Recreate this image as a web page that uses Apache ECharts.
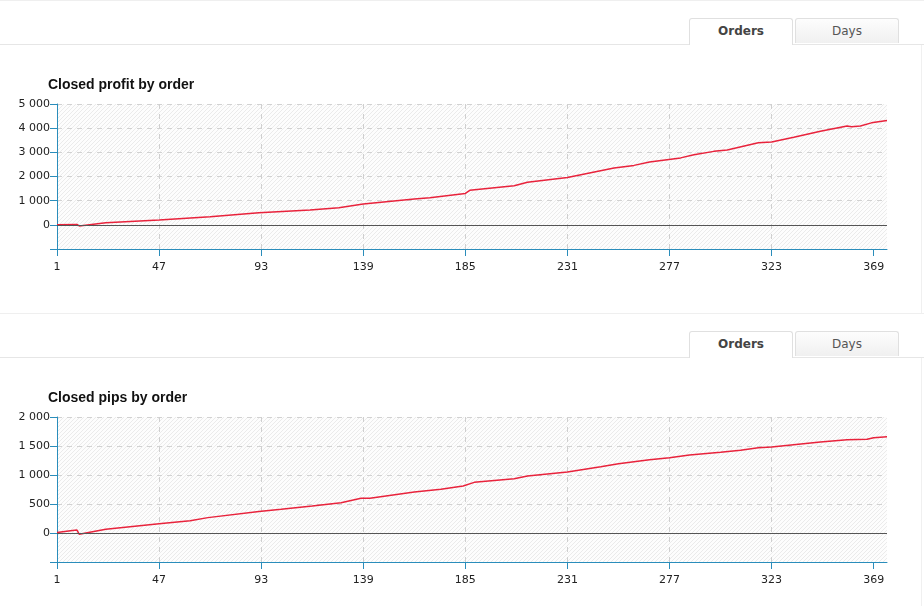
<!DOCTYPE html>
<html>
<head>
<meta charset="utf-8">
<script src="https://cdn.jsdelivr.net/npm/echarts@6/dist/echarts.min.js"></script>
<style>
  body { margin: 0; background: #fff; font-family: "DejaVu Sans", Verdana, sans-serif; }
  .panel { position: absolute; left: 0; width: 924px; height: 313px; border-top: 1px solid #efefef; box-sizing: border-box; }
  .bar { position: absolute; top: 0; left: 0; width: 924px; height: 43px; border-bottom: 1px solid #e6e6e6; }
  .tab { position: absolute; top: 17px; width: 102px; height: 24px; line-height: 24px; text-align: center; font-size: 12px;
         border: 1px solid #e0e0e0; border-bottom: none; border-radius: 3px 3px 0 0; color: #555;
         background: linear-gradient(#fdfdfd, #f0f0f0); }
  .tab.on { height: 26px; background: #fff; font-weight: bold; color: #444; }
  .side { position: absolute; top: 44px; left: 921px; width: 1px; height: 269px; background: #f0f0f0; }
  .chart { position: absolute; top: 43px; left: 0; width: 924px; height: 269px; }
</style>
</head>
<body>
<div class="panel" style="top:0">
  <div class="bar"><div class="tab on" style="left:689px">Orders</div><div class="tab" style="left:795px">Days</div></div>
  <div class="side"></div>
  <div id="profit" class="chart"></div>
</div>
<div class="panel" style="top:313px">
  <div class="bar"><div class="tab on" style="left:689px">Orders</div><div class="tab" style="left:795px">Days</div></div>
  <div class="side"></div>
  <div id="pips" class="chart"></div>
</div>
<script>
// order number -> closed profit
const profitOrders = [1, 10, 11, 23, 47, 70, 92, 115, 128, 139, 162, 169, 185, 187, 207, 213, 231, 252, 261, 268,
  282, 288, 297, 303, 317, 323, 333, 345, 357, 359, 363, 368, 375];
const profitValues = [0, 15, -45, 90, 200, 330, 500, 610, 710, 860, 1070, 1120, 1300, 1430, 1620, 1760, 1960, 2350, 2460, 2600,
  2770, 2900, 3040, 3100, 3400, 3430, 3620, 3870, 4090, 4060, 4090, 4220, 4320];

// order number -> closed pips
const pipsOrders = [1, 8, 10, 11, 23, 47, 61, 69, 92, 102, 116, 129, 138, 142, 162, 174, 184, 189, 207, 213,
  231, 246, 254, 268, 277, 286, 300, 309, 317, 323, 345, 357, 366, 369, 375];
const pipsValues = [10, 45, 50, -20, 65, 160, 210, 265, 370, 408, 465, 523, 598, 600, 707, 753, 810, 873, 937, 983,
  1052, 1143, 1195, 1264, 1298, 1345, 1391, 1425, 1471, 1483, 1569, 1609, 1615, 1643, 1660];

const xLabelOrders = [1, 47, 93, 139, 185, 231, 277, 323, 369];
const ORDER_COUNT = 375;

const FONT = '"DejaVu Sans", Verdana, sans-serif';
const BLUE = '#2a8dbb';

function hatch() {
  const c = document.createElement('canvas');
  c.width = 4; c.height = 4;
  const g = c.getContext('2d');
  g.fillStyle = '#fdfdfd';
  g.fillRect(0, 0, 4, 4);
  g.strokeStyle = '#ebebeb';
  g.lineWidth = 1;
  g.beginPath();
  g.moveTo(0, 4); g.lineTo(4, 0);
  g.moveTo(-1, 1); g.lineTo(1, -1);
  g.moveTo(3, 5); g.lineTo(5, 3);
  g.stroke();
  return c;
}

const spaced = v => v < 0 ? '' : String(v).replace(/\B(?=(\d{3})+(?!\d))/g, ' ');

function draw(el, { title, orders, values, min, max, step }) {
  const c = echarts.init(el, null, { renderer: 'canvas' });
  const ticks = xLabelOrders.map(o => o - 1);
  c.setOption({
    animation: false,
    textStyle: { fontFamily: FONT },
    title: {
      text: title, left: 48, top: 34, padding: 0,
      textStyle: { fontSize: 14, fontWeight: 'bold', color: '#111', fontFamily: '"Liberation Sans", Arial, sans-serif' },
    },
    grid: {
      left: 57, right: 37, top: 60, height: 145,
      show: true, borderWidth: 0,
      backgroundColor: { image: hatch(), repeat: 'repeat' },
    },
    xAxis: {
      type: 'value', min: 0, max: ORDER_COUNT - 1, interval: 23,
      axisLine: { onZero: false, lineStyle: { color: BLUE, width: 1 } },
      axisTick: { customValues: ticks, length: 7, lineStyle: { color: BLUE } },
      axisLabel: { customValues: ticks, formatter: v => v + 1, color: '#222', fontSize: 11, margin: 13 },
      splitLine: { show: true, showMaxLine: false, lineStyle: { color: '#cfcfcf', type: [5, 5] } },
    },
    yAxis: {
      type: 'value', min, max, interval: step,
      axisLine: { show: true, onZero: false, lineStyle: { color: BLUE, width: 1 } },
      axisTick: { show: true, length: 7, lineStyle: { color: BLUE } },
      axisLabel: { formatter: spaced, color: '#222', fontSize: 11, margin: 7 },
      splitLine: { lineStyle: { color: '#d2d2d2', type: [5, 5] } },
    },
    series: [{
      type: 'line',
      data: orders.map((o, i) => [o - 1, values[i]]),
      showSymbol: false,
      lineStyle: { color: '#e8233c', width: 1.5 },
      itemStyle: { color: '#e8233c' },
      markLine: {
        silent: true, symbol: 'none', animation: false,
        label: { show: false },
        lineStyle: { color: '#555', type: 'solid', width: 1 },
        data: [{ yAxis: 0 }],
      },
      z: 3,
    }],
  });
  return c;
}

draw(document.getElementById('profit'), {
  title: 'Closed profit by order', orders: profitOrders, values: profitValues, min: -1000, max: 5000, step: 1000,
});
draw(document.getElementById('pips'), {
  title: 'Closed pips by order', orders: pipsOrders, values: pipsValues, min: -500, max: 2000, step: 500,
});
</script>
</body>
</html>
